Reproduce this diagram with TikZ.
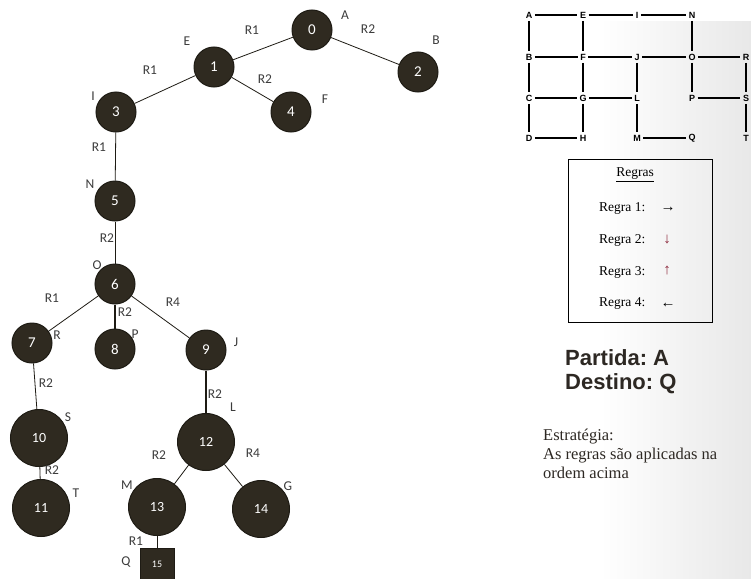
\documentclass[tikz,border=0pt]{standalone}
\usepackage{fontspec}
\setmainfont{Liberation Serif}
\newfontfamily\carl{Carlito}
\newfontfamily\arl{Liberation Sans}
\definecolor{nodefill}{RGB}{47,42,32}
\definecolor{nodeedge}{RGB}{30,27,20}
\definecolor{lbl}{RGB}{60,60,60}
\definecolor{txt}{RGB}{45,40,35}
\definecolor{arrred}{RGB}{140,40,60}
\frenchspacing
\begin{document}
\begin{tikzpicture}[x=1pt,y=-1pt,
  tn/.style={circle,fill=nodefill,draw=nodeedge,line width=1pt,text=white,font=\carl\fontsize{15}{15}\selectfont,minimum size=40pt,inner sep=0pt},
  tnb/.style={tn,minimum size=57pt,font=\carl\fontsize{14}{14}\selectfont},
  tsq/.style={rectangle,fill=nodefill,draw=nodeedge,line width=1pt,text=white,font=\carl\fontsize{10}{10}\selectfont,minimum width=34pt,minimum height=32pt,inner sep=0pt},
  st/.style={font=\carl\fontsize{13.5}{13.5}\selectfont,text=lbl,inner sep=0pt},
  te/.style={draw=nodeedge,line width=0.8pt},
  tet/.style={draw=nodeedge,line width=1.8pt},
  gl/.style={font=\arl\bfseries\fontsize{9}{9}\selectfont,inner sep=2.5pt},
  gline/.style={line width=2.3pt},
  rg/.style={font=\fontsize{13.5}{13.5}\selectfont,anchor=west,inner sep=0pt},
  rga/.style={font=\fontsize{15}{15}\selectfont,inner sep=0pt},
  big/.style={font=\arl\bfseries\fontsize{22}{22}\selectfont,text=txt,anchor=west,inner sep=0pt},
  est/.style={font=\fontsize{16.5}{19}\selectfont,text=txt,anchor=north west,align=left,inner sep=0pt}
]
\useasboundingbox (0,0) rectangle (751,578);
\shade[left color=white,right color=black!9,shading angle=90] (600,22) rectangle (751,578);
\fill[white] (0,0) rectangle (600,578);

% tree nodes
\node[tn] (n0) at (312,30) {0};
\node[tn] (n1) at (214,67) {1};
\node[tn] (n2) at (418,72) {2};
\node[tn] (n3) at (116,112) {3};
\node[tn] (n4) at (291,112) {4};
\node[tn] (n5) at (115,201) {5};
\node[tn] (n6) at (115,284) {6};
\node[tn] (n7) at (32,343) {7};
\node[tn] (n8) at (115,349) {8};
\node[tn] (n9) at (206,350) {9};
\node[tnb] (n10) at (39,438) {10};
\node[tnb] (n11) at (41,508) {11};
\node[tnb] (n12) at (206,442) {12};
\node[tnb] (n13) at (157,507) {13};
\node[tnb] (n14) at (261,509) {14};
\node[tsq] (n15) at (157,564) {15};

% tree edges
\draw[te] (n0) -- (n1);
\draw[te] (n0) -- (n2);
\draw[te] (n1) -- (n3);
\draw[te] (n1) -- (n4);
\draw[te] (n3) -- (n5);
\draw[te] (n5) -- (n6);
\draw[te] (n6) -- (n7);
\draw[tet] (n6) -- (n8);
\draw[te] (n6) -- (n9);
\draw[te] (n7) -- (n10);
\draw[te] (n10) -- (n11);
\draw[tet] (n9) -- (n12);
\draw[te] (n12) -- (n13);
\draw[te] (n12) -- (n14);
\draw[te] (n13) -- (n15);

% edge labels
\node[st] (e01) at (252,30) {R1};
\node[st] (e02) at (368,29) {R2};
\node[st] (e13) at (150,70) {R1};
\node[st] (e14) at (265,79) {R2};
\node[st] (e35) at (99,147) {R1};
\node[st] (e56) at (107,238) {R2};
\node[st] (e67) at (52,298) {R1};
\node[st] (e68) at (125,312) {R2};
\node[st] (e69) at (173,302) {R4};
\node[st] (e710) at (46,383) {R2};
\node[st] (e912) at (215,394) {R2};
\node[st] (e1011) at (52,470) {R2};
\node[st] (e1213) at (159,455) {R2};
\node[st] (e1214) at (253,453) {R4};
\node[st] (e1315) at (136,541) {R1};

% state labels
\node[st] (sA) at (345,15) {A};
\node[st] (sB) at (436,40) {B};
\node[st] (sE) at (187,41) {E};
\node[st] (sF) at (325,99) {F};
\node[st] (sI) at (93,96) {I};
\node[st] (sN) at (90,184) {N};
\node[st] (sO) at (97,265) {O};
\node[st] (sR) at (57,335) {R};
\node[st] (sP) at (135,334) {P};
\node[st] (sJ) at (236,342) {J};
\node[st] (sS) at (68,417) {S};
\node[st] (sT) at (76,493) {T};
\node[st] (sL) at (233,407) {L};
\node[st] (sM) at (127,485) {M};
\node[st] (sG) at (288,486) {G};
\node[st] (sQ) at (126,562) {Q};

% grid
\node[gl] (gA) at (529,15) {A};
\node[gl] (gE) at (583,15) {E};
\node[gl] (gI) at (637,15) {I};
\node[gl] (gN) at (692,15) {N};
\node[gl] (gB) at (529,57) {B};
\node[gl] (gF) at (583,57) {F};
\node[gl] (gJ) at (637,57) {J};
\node[gl] (gO) at (692,57) {O};
\node[gl] (gR) at (746,57) {R};
\node[gl] (gC) at (529,98) {C};
\node[gl] (gG) at (583,98) {G};
\node[gl] (gL) at (637,98) {L};
\node[gl] (gP) at (692,98) {P};
\node[gl] (gS) at (746,98) {S};
\node[gl] (gD) at (529,138) {D};
\node[gl] (gH) at (583,138) {H};
\node[gl] (gM) at (637,138) {M};
\node[gl] (gQ) at (692,138) {Q};
\node[gl] (gT) at (746,138) {T};
\foreach \a/\b in {gA/gE,gE/gI,gI/gN,gB/gF,gF/gJ,gJ/gO,gO/gR,gC/gG,gG/gL,gP/gS,gD/gH,gM/gQ,
  gA/gB,gE/gF,gN/gO,gB/gC,gF/gG,gJ/gL,gO/gP,gR/gS,gC/gD,gG/gH,gL/gM,gS/gT}
  \draw[gline] (\a) -- (\b);

% rules box
\node[draw,line width=1pt,minimum width=144pt,minimum height=163pt,inner sep=0pt] (box) at (640,240.5) {};
\node[font=\fontsize{13.5}{13.5}\selectfont,inner sep=0pt] (rt) at (635,175) {\underline{Regras}};
\node[rg] (r1) at (599,208) {Regra 1:};
\node[rg] (r2) at (599,240) {Regra 2:};
\node[rg] (r3) at (599,272) {Regra 3:};
\node[rg] (r4) at (599,304) {Regra 4:};
\node[rga] (a1) at (668,209) {→};
\node[rga,text=arrred] (a2) at (667,240) {↓};
\node[rga,text=arrred] (a3) at (667,271) {↑};
\node[rga] (a4) at (668,305) {←};

% text
\node[big] (part) at (565,358) {Partida: A};
\node[big] (dest) at (565,384) {Destino: Q};
\node[est] (estr) at (543,429) {Estratégia:\\As regras são aplicadas na\\ordem acima};
\end{tikzpicture}
\end{document}
